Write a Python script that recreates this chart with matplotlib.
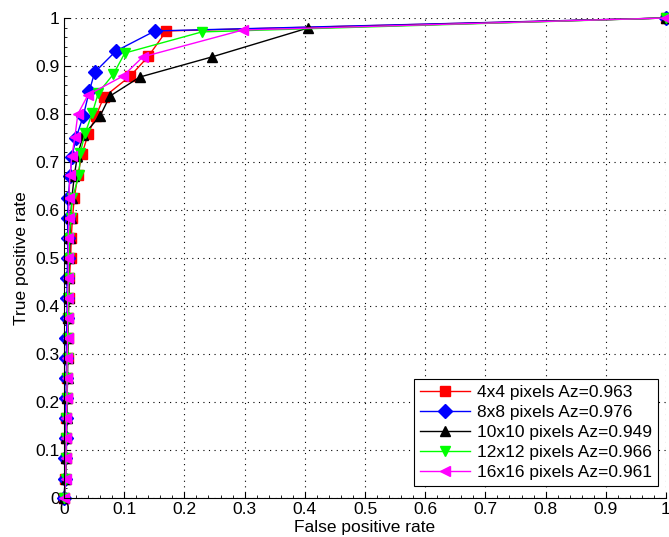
import matplotlib.pyplot as plt
from matplotlib.ticker import MultipleLocator

plt.rcParams["font.family"] = ["Liberation Sans", "DejaVu Sans"]

labels = [
    "4x4 pixels Az=0.963",
    "8x8 pixels Az=0.976",
    "10x10 pixels Az=0.949",
    "12x12 pixels Az=0.966",
    "16x16 pixels Az=0.961",
]
colors = ["#ff0000", "#0000ff", "#000000", "#00ff00", "#ff00ff"]
markers = ["s", "D", "^", "v", "<"]

y_low = [0, 0.04, 0.083, 0.125, 0.167, 0.208, 0.25, 0.292, 0.333, 0.375,
         0.417, 0.458, 0.5, 0.542, 0.583, 0.625]

fpr_4 = [0, 0.002, 0.003, 0.004, 0.004, 0.005, 0.005, 0.006, 0.006, 0.007,
         0.008, 0.009, 0.011, 0.012, 0.014, 0.017,
         0.023, 0.03, 0.04, 0.053, 0.066, 0.11, 0.14, 0.17, 1]
tpr_4 = y_low + [0.673, 0.717, 0.758, 0.796, 0.835, 0.879, 0.92, 0.973, 1]

fpr_8 = [0, 0.002, 0.002, 0.003, 0.003, 0.003, 0.004, 0.004, 0.004, 0.005,
         0.005, 0.005, 0.006, 0.006, 0.006, 0.007,
         0.01, 0.013, 0.02, 0.032, 0.042, 0.051, 0.086, 0.151, 1]
tpr_8 = y_low + [0.67, 0.71, 0.75, 0.796, 0.848, 0.887, 0.931, 0.973, 1]

fpr_10 = [0, 0.003, 0.004, 0.004, 0.005, 0.005, 0.006, 0.006, 0.007, 0.007,
          0.008, 0.008, 0.009, 0.01, 0.011, 0.013,
          0.017, 0.022, 0.032, 0.06, 0.076, 0.126, 0.246, 0.405, 1]
tpr_10 = y_low + [0.67, 0.712, 0.756, 0.796, 0.837, 0.877, 0.919, 0.979, 1]

fpr_12 = [0, 0.003, 0.003, 0.004, 0.004, 0.005, 0.005, 0.006, 0.006, 0.007,
          0.007, 0.008, 0.008, 0.009, 0.011, 0.014,
          0.025, 0.027, 0.035, 0.047, 0.057, 0.082, 0.101, 0.229, 1]
tpr_12 = y_low + [0.673, 0.719, 0.76, 0.802, 0.844, 0.883, 0.927, 0.971, 1]

fpr_16 = [0, 0.003, 0.003, 0.004, 0.004, 0.005, 0.005, 0.005, 0.006, 0.006,
          0.006, 0.007, 0.007, 0.007, 0.008, 0.008,
          0.01, 0.013, 0.018, 0.023, 0.04, 0.098, 0.131, 0.297, 1]
tpr_16 = y_low + [0.673, 0.712, 0.752, 0.8, 0.84, 0.879, 0.919, 0.975, 1]

series = [(fpr_4, tpr_4), (fpr_8, tpr_8), (fpr_10, tpr_10),
          (fpr_12, tpr_12), (fpr_16, tpr_16)]

fig = plt.figure(figsize=(6.69, 5.37), dpi=100)
ax = fig.add_axes([0.0957, 0.0726, 0.8998, 0.8939])

for (x, y), c, m, lab in zip(series, colors, markers, labels):
    ax.plot(x, y, color=c, marker=m, markersize=7.5, linewidth=1,
            markerfacecolor=c, markeredgecolor=c, label=lab, clip_on=False)

ax.set_xlim(0, 1)
ax.set_ylim(0, 1)
ax.xaxis.set_major_locator(MultipleLocator(0.1))
ax.yaxis.set_major_locator(MultipleLocator(0.1))
ax.xaxis.set_minor_locator(MultipleLocator(0.02))
ax.yaxis.set_minor_locator(MultipleLocator(0.02))
ax.set_xticklabels([f"{v:g}" for v in ax.get_xticks()])
ax.set_yticklabels([f"{v:g}" for v in ax.get_yticks()])
ax.tick_params(which="both", direction="in", labelsize=12.5)
ax.tick_params(which="major", length=4, pad=3)
ax.tick_params(which="minor", length=2)
ax.grid(True, which="major", linestyle=(0, (1, 4)), color="black", linewidth=0.8)
ax.spines["top"].set_visible(False)
ax.spines["right"].set_visible(False)

ax.set_xlabel("False positive rate", fontsize=12.5, labelpad=2)
ax.set_ylabel("True positive rate", fontsize=12.5, labelpad=5)

leg = ax.legend(loc="lower right", bbox_to_anchor=(658 / 669, 1 - 486 / 537),
                bbox_transform=fig.transFigure, borderaxespad=0,
                fontsize=12.5, fancybox=False, framealpha=1,
                edgecolor="black", handlelength=2.9, handletextpad=0.4,
                labelspacing=0.28, borderpad=0.35)
leg.get_frame().set_linewidth(0.8)

fig.savefig("out.png", dpi=100)
